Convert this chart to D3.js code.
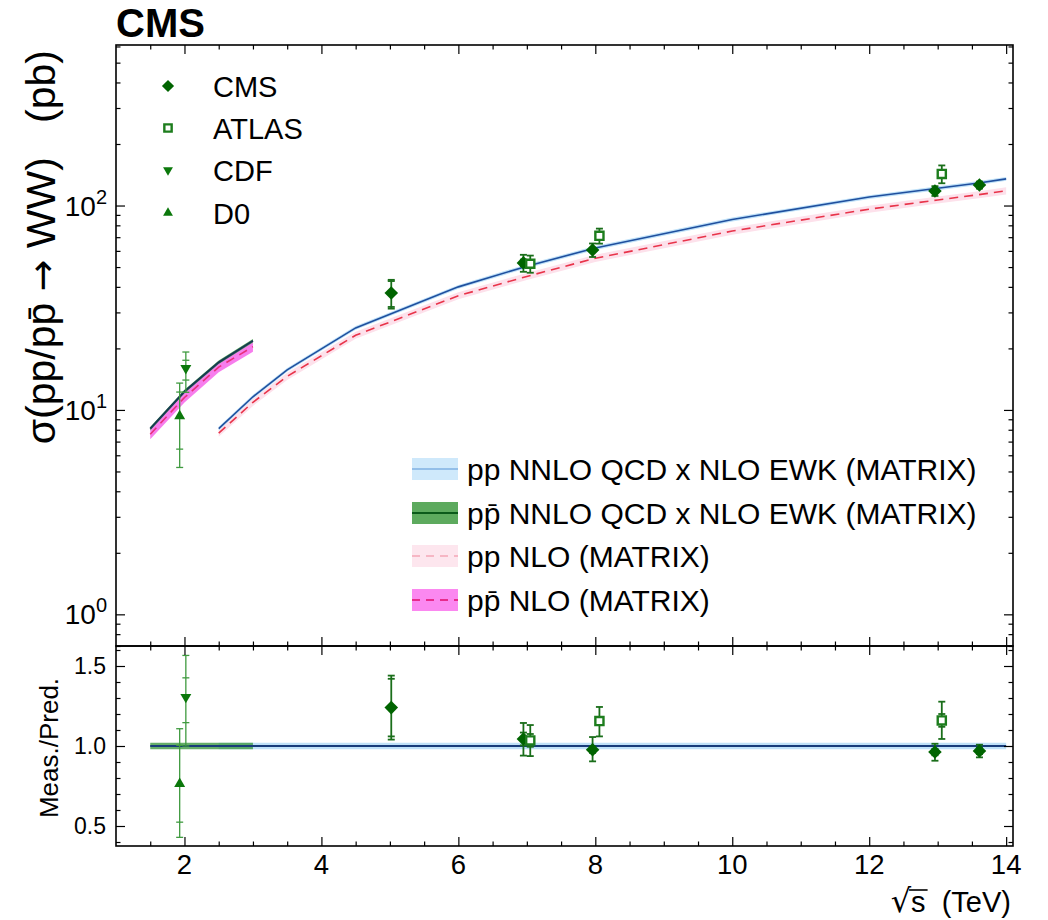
<!DOCTYPE html>
<html><head><meta charset="utf-8">
<script src="https://cdn.jsdelivr.net/npm/d3@7"></script>
<style>
body{margin:0;background:#fff}
text{font-family:"Liberation Sans",Arial,Helvetica,sans-serif;fill:#000}
</style>
</head><body>
<svg id="c" width="1048" height="920"></svg>
<script>
// ---------------- DATA ----------------
// pp theory curves (sqrt(s) in TeV, sigma in pb)
const ppEnergy   = [2.5, 3.0, 3.5, 4.5, 6.0, 7.0, 8.0, 10.0, 12.0, 13.0, 13.6, 14.0];
const ppNNLO     = [8.1, 11.6, 15.7, 25.2, 40.0, 50.5, 62.0, 85.5, 110.0, 121.5, 129.0, 135.0];
const ppNNLOUnc  = [0.022, 0.022, 0.022, 0.022, 0.022, 0.022, 0.022, 0.022, 0.022, 0.022, 0.022, 0.022];
const ppNLO      = [7.7, 10.9, 14.6, 23.2, 36.2, 45.0, 55.2, 75.0, 96.0, 106.5, 113.0, 118.0];
const ppNLOUnc   = [0.04, 0.04, 0.04, 0.04, 0.04, 0.04, 0.04, 0.04, 0.04, 0.04, 0.04, 0.04];
// ppbar theory curves
const ppbarEnergy  = [1.5, 2.0, 2.5, 3.0];
const ppbarNNLO    = [8.1, 12.3, 17.1, 21.8];
const ppbarNNLOUnc = [0.02, 0.02, 0.02, 0.02];
const ppbarNLO     = [7.6, 11.5, 16.2, 20.4];
const ppbarNLOUnc  = [0.055, 0.055, 0.055, 0.055];
// ratio-panel bands (relative half widths)
const ratioPPRange    = [2.5, 14.0];
const ratioPPUnc      = 0.02;
const ratioPPbarRange = [1.5, 3.0];
const ratioPPbarUnc   = 0.02;

// measurements
const measExp     = ["D0", "CDF", "CMS", "CMS", "ATLAS", "CMS", "ATLAS", "CMS", "ATLAS", "CMS"];
const measEnergy  = [1.93, 2.02, 5.02, 6.95, 7.05, 7.96, 8.06, 12.96, 13.06, 13.61];
const measXsec    = [9.33, 16.0, 37.3, 52.4, 51.9, 60.6, 71.1, 117.9, 142.8, 126.0];
const measTotUp   = [4.2, 3.2, 6.0, 5.0, 5.0, 4.6, 6.0, 6.5, 14.3, 5.0];
const measTotDn   = [4.1, 3.8, 6.0, 5.0, 5.0, 4.6, 6.0, 6.5, 14.3, 5.0];
const measStatUp  = [2.9, 1.5, 5.4, 2.0, 2.0, 1.0, 1.1, 1.5, 4.9, 1.5];
const measStatDn  = [2.9, 2.0, 5.4, 2.0, 2.0, 1.0, 1.1, 1.5, 4.9, 1.5];
// measured / predicted
const ratioVal    = [0.764, 1.306, 1.24, 1.044, 1.035, 0.977, 1.156, 0.962, 1.16, 0.969];
const ratioTotUp  = [0.344, 0.26, 0.20, 0.10, 0.096, 0.079, 0.088, 0.052, 0.117, 0.039];
const ratioTotDn  = [0.335, 0.306, 0.20, 0.104, 0.098, 0.073, 0.096, 0.054, 0.116, 0.040];
const ratioStatUp = [0.24, 0.12, 0.18, 0.04, 0.04, 0.02, 0.02, 0.02, 0.04, 0.02];
const ratioStatDn = [0.24, 0.16, 0.18, 0.04, 0.04, 0.02, 0.02, 0.02, 0.04, 0.02];

// axis ticks
const xTickLabels = [2, 4, 6, 8, 10, 12, 14];
const yLogLabels  = [1, 10, 100];
const yLogExp     = ["0", "1", "2"];
const yRatioLabels = [0.5, 1.0, 1.5];

const dataLegend = ["CMS", "ATLAS", "CDF", "D0"];
const theoryLegend = ["pp NNLO QCD x NLO EWK (MATRIX)", "pp\u0304 NNLO QCD x NLO EWK (MATRIX)", "pp NLO (MATRIX)", "pp\u0304 NLO (MATRIX)"];

// ---------------- LAYOUT ----------------
const L = 116, R = 1013, T1 = 45, B1 = 646, T2 = 646, B2 = 846;
const svg = d3.select("#c");
const x  = d3.scaleLinear().domain([1, 14.1]).range([L, R]);
const y  = d3.scaleLog().domain([0.7, 610]).range([B1, T1]);
const yr = d3.scaleLinear().domain([0.375, 1.625]).range([B2, T2]);

const col = {
  blueBand: "#bfe1f8", blueLine: "#1f4f9e",
  pinkBand: "#fde1eb", redLine: "#e8344a",
  magBand: "#f77ded", magLine: "#e8307a",
  greenBand: "#3f9a44", darkLine: "#163a52",
  CMS: "#006400", ATLAS: "#1d7d1d", TEV: "#0b780b"
};

// clip paths
const defs = svg.append("defs");
defs.append("clipPath").attr("id","c1").append("rect").attr("x",L).attr("y",T1).attr("width",R-L).attr("height",B1-T1);
defs.append("clipPath").attr("id","c2").append("rect").attr("x",L).attr("y",T2).attr("width",R-L).attr("height",B2-T2);

const g1 = svg.append("g").attr("clip-path","url(#c1)");
const g2 = svg.append("g").attr("clip-path","url(#c2)");

function zipCurve(E, V, U) { return E.map((e,i)=>({e, v:V[i], u:U[i]})); }
const area = d3.area().x(d=>x(d.e)).y0(d=>y(d.v*(1-d.u))).y1(d=>y(d.v*(1+d.u)));
const line = d3.line().x(d=>x(d.e)).y(d=>y(d.v));

const ppN  = zipCurve(ppEnergy, ppNNLO, ppNNLOUnc);
const ppL  = zipCurve(ppEnergy, ppNLO, ppNLOUnc);
const pbN  = zipCurve(ppbarEnergy, ppbarNNLO, ppbarNNLOUnc);
const pbL  = zipCurve(ppbarEnergy, ppbarNLO, ppbarNLOUnc);

// pp
g1.append("path").attr("d", area(ppL)).attr("fill", col.pinkBand);
g1.append("path").attr("d", area(ppN)).attr("fill", col.blueBand);
g1.append("path").attr("d", line(ppL)).attr("fill","none").attr("stroke",col.redLine).attr("stroke-width",1.6).attr("stroke-dasharray","9,6");
g1.append("path").attr("d", line(ppN)).attr("fill","none").attr("stroke",col.blueLine).attr("stroke-width",1.6);
// ppbar
g1.append("path").attr("d", area(pbL)).attr("fill", col.magBand);
g1.append("path").attr("d", area(pbN)).attr("fill", col.greenBand).attr("opacity",0.85);
g1.append("path").attr("d", line(pbL)).attr("fill","none").attr("stroke",col.magLine).attr("stroke-width",1.6).attr("stroke-dasharray","9,6");
g1.append("path").attr("d", line(pbN)).attr("fill","none").attr("stroke",col.darkLine).attr("stroke-width",2);

// ratio panel bands
const rArea = d3.area().x(d=>x(d)).y0(()=>yr(1-ratioPPUnc)).y1(()=>yr(1+ratioPPUnc));
g2.append("path").attr("d", rArea(ratioPPRange)).attr("fill", col.blueBand);
const rArea2 = d3.area().x(d=>x(d)).y0(()=>yr(1-ratioPPbarUnc)).y1(()=>yr(1+ratioPPbarUnc));
g2.append("path").attr("d", rArea2(ratioPPbarRange)).attr("fill", col.greenBand).attr("opacity",0.8);
g2.append("line").attr("x1",x(ratioPPbarRange[0])).attr("x2",x(ratioPPRange[1])).attr("y1",yr(1)).attr("y2",yr(1))
  .attr("stroke","#183c7a").attr("stroke-width",1.8);

// ---------------- MARKERS ----------------
function markerPath(exp, big) {
  const k = big ? 1 : 0.9;
  if (exp === "CMS") return d3.symbol(d3.symbolSquare, 92*k*k)();
  if (exp === "ATLAS") return d3.symbol(d3.symbolSquare, 66*k*k)();
  return d3.symbol(d3.symbolTriangle, 52*k*k)();
}
function drawMarker(g, exp, cx, cy, big) {
  const p = g.append("path").attr("d", markerPath(exp, big));
  let tr = `translate(${cx},${cy})`;
  if (exp === "CMS") { tr += " rotate(45)"; p.attr("fill", col.CMS); }
  else if (exp === "ATLAS") { p.attr("fill","#fff").attr("stroke",col.ATLAS).attr("stroke-width",2.4); }
  else if (exp === "CDF") { tr += " rotate(180)"; p.attr("fill", col.TEV); }
  else { p.attr("fill", col.TEV); }
  p.attr("transform", tr);
}
function errBar(g, exp, cx, yc, yTu, yTd, ySu, ySd) {
  const tev = (exp === "CDF" || exp === "D0");
  const c = tev ? "#3f9a3f" : "#1a6e1a";
  const w = tev ? 1.3 : 1.8;
  g.append("line").attr("x1",cx).attr("x2",cx).attr("y1",yTu).attr("y2",yTd).attr("stroke",c).attr("stroke-width",w);
  [yTu,yTd,ySu,ySd].forEach(v=>{
    g.append("line").attr("x1",cx-3.5).attr("x2",cx+3.5).attr("y1",v).attr("y2",v).attr("stroke",c).attr("stroke-width",w);
  });
}
measExp.forEach((exp,i)=>{
  const cx = x(measEnergy[i]), v = measXsec[i];
  errBar(g1, exp, cx, y(v), y(v+measTotUp[i]), y(v-measTotDn[i]), y(v+measStatUp[i]), y(v-measStatDn[i]));
  const r = ratioVal[i];
  errBar(g2, exp, cx, yr(r), yr(r+ratioTotUp[i]), yr(r-ratioTotDn[i]), yr(r+ratioStatUp[i]), yr(r-ratioStatDn[i]));
});
measExp.forEach((exp,i)=>{
  const cx = x(measEnergy[i]);
  drawMarker(g1, exp, cx, y(measXsec[i]), true);
  drawMarker(g2, exp, cx, yr(ratioVal[i]), true);
});

// ---------------- AXES / FRAMES ----------------
const axG = svg.append("g");
function inAxis(axisFn, scale, vals, len, tx, ty) {
  const a = axisFn(scale).tickValues(vals).tickSize(-len).tickFormat("");
  const gg = axG.append("g").attr("transform",`translate(${tx},${ty})`).call(a);
  gg.select(".domain").remove();
  gg.selectAll("line").attr("stroke","#000").attr("stroke-width",1.2);
}
const xMinor = d3.range(1.5, 14.01, 0.5).filter(v=>Math.abs(v%2)>1e-6);
const xMajor = d3.range(2, 14.01, 2);
[[T1,B1],[T2,B2]].forEach(([t,b])=>{
  inAxis(d3.axisBottom, x, xMajor, 9, 0, b);
  inAxis(d3.axisBottom, x, xMinor, 4.5, 0, b);
  inAxis(d3.axisTop, x, xMajor, 9, 0, t);
  inAxis(d3.axisTop, x, xMinor, 4.5, 0, t);
});
// log ticks
const logMinor = [], logMajor = [1,10,100];
[-1,0,1,2].forEach(d=>{ for(let m=2;m<=9;m++){ const v=m*Math.pow(10,d); if(v>=0.7 && v<=610) logMinor.push(v);} });
inAxis(d3.axisLeft, y, logMajor, 9, L, 0);
inAxis(d3.axisLeft, y, logMinor, 4.5, L, 0);
inAxis(d3.axisRight, y, logMajor, 9, R, 0);
inAxis(d3.axisRight, y, logMinor, 4.5, R, 0);
// ratio ticks
const rMajor = [0.5,1.0,1.5];
const rMinor = d3.range(4,17).map(v=>v/10).filter(v=>!rMajor.some(m=>Math.abs(m-v)<1e-6));
inAxis(d3.axisLeft, yr, rMajor, 9, L, 0);
inAxis(d3.axisLeft, yr, rMinor, 4.5, L, 0);
inAxis(d3.axisRight, yr, rMajor, 9, R, 0);
inAxis(d3.axisRight, yr, rMinor, 4.5, R, 0);

// frames
svg.append("rect").attr("x",L).attr("y",T1).attr("width",R-L).attr("height",B1-T1).attr("fill","none").attr("stroke","#000").attr("stroke-width",1.6);
svg.append("rect").attr("x",L).attr("y",T2).attr("width",R-L).attr("height",B2-T2).attr("fill","none").attr("stroke","#000").attr("stroke-width",1.6);

// tick labels
svg.append("g").selectAll("text").data(xTickLabels).join("text")
  .attr("x", d=>x(d)).attr("y", 874).attr("text-anchor","middle").attr("font-size",27.5).text(d=>d);
yLogLabels.forEach((v,i)=>{
  const t = svg.append("text").attr("x",107).attr("y",y(v)+10).attr("text-anchor","end").attr("font-size",28);
  t.append("tspan").text("10");
  t.append("tspan").attr("font-size",20).attr("dy",-12).text(yLogExp[i]);
});
svg.append("g").selectAll("text").data(yRatioLabels).join("text")
  .attr("x",106).attr("y",d=>yr(d)+8).attr("text-anchor","end").attr("font-size",23).text(d=>d.toFixed(1));

// axis titles
const yt = svg.append("text").attr("transform","translate(55,50) rotate(-90)").attr("text-anchor","end").attr("font-size",41);
yt.append("tspan").text("\u03c3(pp/pp\u0304 ");
yt.append("tspan").attr("font-family","DejaVu Sans").attr("font-size",38).text("\u2192");
yt.append("tspan").text(" WW)\u00a0\u00a0\u00a0(pb)");
svg.append("text").attr("transform","translate(58,748) rotate(-90)").attr("text-anchor","middle").attr("font-size",26)
  .text("Meas./Pred.");
const xt = svg.append("text").attr("x",1011).attr("y",912).attr("text-anchor","end").attr("font-size",29);
xt.append("tspan").attr("font-family","DejaVu Sans").attr("font-size",32).text("\u221a");
const tS = xt.append("tspan").text("s");
xt.append("tspan").text("\u00a0\u00a0(TeV)");
const bb = tS.node().getBBox();
svg.append("line").attr("x1",bb.x-2).attr("x2",bb.x+bb.width+2).attr("y1",bb.y+4).attr("y2",bb.y+4).attr("stroke","#000").attr("stroke-width",1.6);

// CMS label
svg.append("text").attr("x",116).attr("y",37).attr("font-size",40).attr("font-weight","bold").text("CMS");

// data legend
const dlY = [86, 128, 170, 213];
dataLegend.forEach((n,i)=>{
  drawMarker(svg, n, 168, dlY[i], false);
  svg.append("text").attr("x",213).attr("y",dlY[i]+10.5).attr("font-size",29).text(n);
});

// theory legend
const tlY = [469, 513, 556, 600];
const lg = svg.append("g");
const bx0 = 412, bx1 = 458;
function legBox(yc, fill, lineCol, dash, lw) {
  lg.append("rect").attr("x",bx0).attr("y",yc-11).attr("width",bx1-bx0).attr("height",22).attr("fill",fill);
  const l = lg.append("line").attr("x1",bx0).attr("x2",bx1).attr("y1",yc).attr("y2",yc).attr("stroke",lineCol).attr("stroke-width",lw);
  if (dash) l.attr("stroke-dasharray",dash);
}
legBox(tlY[0], "#cfe9fb", "#7fb0e3", null, 1.6);
legBox(tlY[1], "#5daa5e", "#0b5a1a", null, 2);
legBox(tlY[2], "#fde6ee", "#f4a6b6", "8,6", 1.6);
legBox(tlY[3], "#fb88f0", "#e82a8c", "8,6", 2);
theoryLegend.forEach((n,i)=>{
  lg.append("text").attr("x",467).attr("y",tlY[i]+10.5).attr("font-size",30).text(n);
});
</script>
</body></html>
